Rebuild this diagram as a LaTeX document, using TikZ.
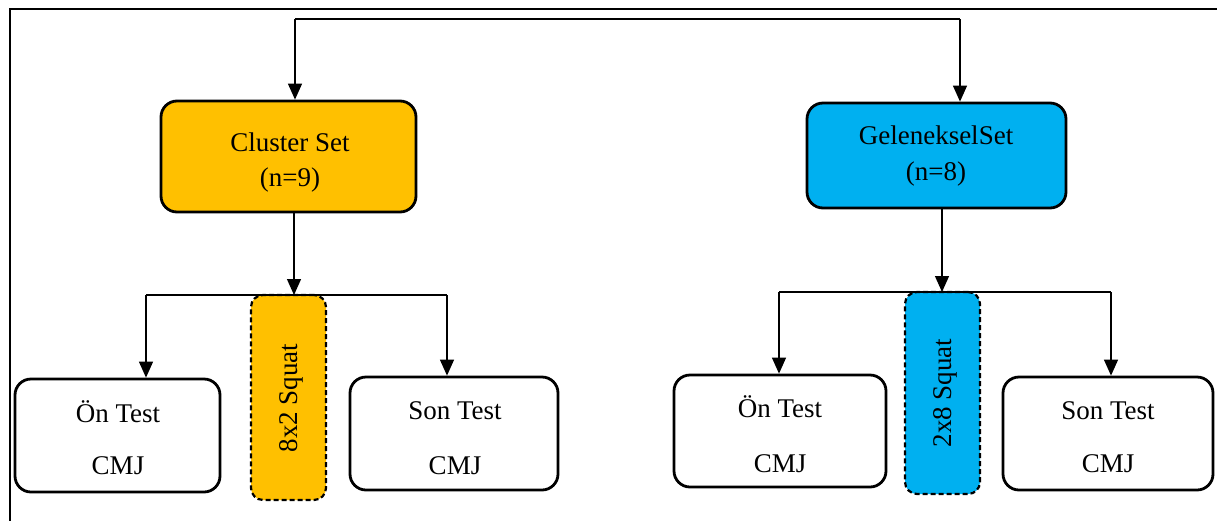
\documentclass[tikz,border=0pt]{standalone}
\usepackage{fontspec}
\setmainfont{Liberation Serif}
\usetikzlibrary{arrows.meta}
\definecolor{gold}{HTML}{FFC000}
\definecolor{sky}{HTML}{00B0F0}
\begin{document}
\begin{tikzpicture}[x=1pt,y=-1pt,
  box/.style={draw=black, line width=2.8pt, rounded corners=16pt, inner sep=0pt},
  txt/.style={anchor=base, inner sep=0pt, font=\fontsize{27}{32}\selectfont},
  squatbox/.style={draw=black, line width=2.2pt, dash pattern=on 5pt off 3pt, rounded corners=12pt,
    inner sep=0pt, minimum width=75pt},
  conn/.style={line width=1.3pt, -{Triangle[length=16pt,width=14pt]}},
  plain/.style={line width=1.3pt}]
\useasboundingbox (0,0) rectangle (1217,520);
\draw[line width=2pt] (10,522) -- (10,9) -- (1219,9);

% top level boxes
\node[box, fill=gold, minimum width=255pt, minimum height=111pt] (cs) at (288.5,156.5) {};
\node[txt] (cs1) at (290,151) {Cluster Set};
\node[txt] (cs2) at (290,186) {(n=9)};
\node[box, fill=sky, minimum width=259pt, minimum height=105pt] (gs) at (936.5,155.5) {};
\node[txt] (gs1) at (936,144) {GelenekselSet};
\node[txt] (gs2) at (936,180) {(n=8)};

% left branch
\node[box, minimum width=205pt, minimum height=113pt] (on1) at (117.5,435.5) {};
\node[txt] (on1a) at (118,422) {Ön Test};
\node[txt] (on1b) at (118,474) {CMJ};
\node[box, minimum width=208pt, minimum height=113pt] (son1) at (454,433.5) {};
\node[txt] (son1a) at (455,419) {Son Test};
\node[txt] (son1b) at (455,474) {CMJ};
\node[squatbox, fill=gold, minimum height=205pt] (sq1) at (288.5,397.5) {};
\node[rotate=90, inner sep=0pt, font=\fontsize{27}{32}\selectfont] (sq1t) at (291,398) {8x2 Squat};

% right branch
\node[box, minimum width=212pt, minimum height=112pt] (on2) at (780,431) {};
\node[txt] (on2a) at (780,417) {Ön Test};
\node[txt] (on2b) at (780,472) {CMJ};
\node[box, minimum width=210pt, minimum height=113pt] (son2) at (1108,433.5) {};
\node[txt] (son2a) at (1108,419) {Son Test};
\node[txt] (son2b) at (1108,472) {CMJ};
\node[squatbox, fill=sky, minimum height=202pt] (sq2) at (942.5,393) {};
\node[rotate=90, inner sep=0pt, font=\fontsize{27}{32}\selectfont] (sq2t) at (945,393) {2x8 Squat};

% top connector
\coordinate (tl) at (295,19);
\coordinate (tr) at (960,19);
\draw[plain] (tl) -- (tr);
\draw[conn] (tl) -- (cs.north -| tl);
\draw[conn] (tr) -- (gs.north -| tr);

% left splits
\coordinate (l1) at (146,295);
\coordinate (r1) at (447,295);
\draw[conn] (cs.south -| 294,0) -- (294,295);
\draw[plain] (l1) -- (r1);
\draw[conn] (l1) -- (on1.north -| l1);
\draw[conn] (r1) -- (son1.north -| r1);

% right splits
\coordinate (l2) at (779,292);
\coordinate (r2) at (1111,292);
\draw[conn] (gs.south -| 942,0) -- (942,292);
\draw[plain] (l2) -- (r2);
\draw[conn] (l2) -- (on2.north -| l2);
\draw[conn] (r2) -- (son2.north -| r2);
\end{tikzpicture}
\end{document}
